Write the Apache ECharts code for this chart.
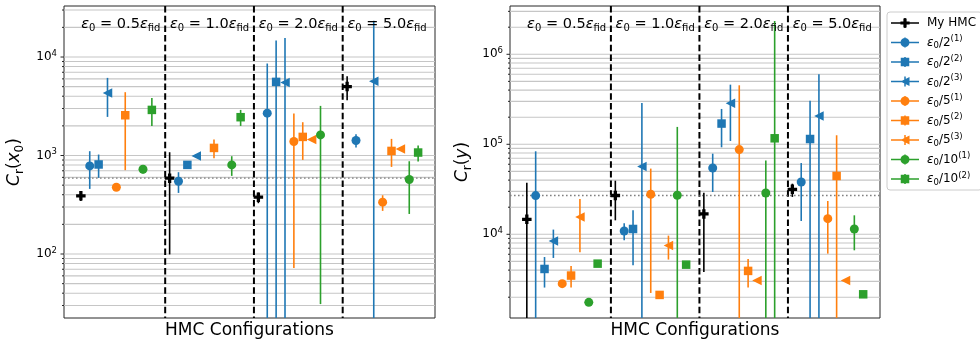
<!DOCTYPE html>
<html><head><meta charset="utf-8">
<script src="https://cdn.jsdelivr.net/npm/echarts@6/dist/echarts.min.js"></script>
<style>html,body{margin:0;padding:0;background:#fff}#c{width:980px;height:341px}</style>
</head><body><div id="c"></div>
<script>
// ---------------- DATA ----------------
const groupLabels = ['0.5', '1.0', '2.0', '5.0'];           // eps0 / eps_fid per group
const seriesNames = ['My HMC', 'e2_1', 'e2_2', 'e2_3', 'e5_1', 'e5_2', 'e5_3', 'e10_1', 'e10_2'];
const seriesDenom = ['', '2', '2', '2', '5', '5', '5', '10', '10'];
const seriesRun   = ['', '1', '2', '3', '1', '2', '3', '1', '2'];
const xTitle = 'HMC Configurations';

// Each entry per group: [value, lower, upper]; null = no point; lower null = below axis
// Left panel: C_r(x_0)
const x0_myHMC = [[390, 345, 430], [589, 99, 1080], [378, 328, 421], [5010, 3640, 6380]];
const x0_e2_1  = [[784, 458, 1106], [548, 417, 677], [2690, null, 8590], [1420, 1205, 1645]];
const x0_e2_2  = [[811, 593, 1023], [803, 780, 826], [5590, null, 14750], null];
const x0_e2_3  = [[4300, 2466, 6140], [990, 950, 1030], [5510, null, 15630], [5675, null, 23300]];
const x0_e5_1  = [[476, 460, 492], null, [1388, 72, 2670], [336, 274, 395]];
const x0_e5_2  = [[2563, 710, 4395], [1194, 939, 1453], [1545, 902, 2178], [1113, 766, 1475]];
const x0_e5_3  = [null, null, [1453, 1400, 1510], [1167, 1120, 1220]];
const x0_e10_1 = [[726, 656, 791], [803, 621, 984], [1618, 31, 3190], [571, 255, 875]];
const x0_e10_2 = [[2904, 1996, 3845], [2449, 1996, 2904], null, [1072, 869, 1263]];

// Right panel: C_r(y)
const y_myHMC = [[14680, null, 37500], [27000, 14300, 39400], [16830, 3810, 29000], [31600, 26000, 36500]];
const y_e2_1  = [[26900, null, 83600], [10880, 8580, 13250], [54600, 29500, 78700], [38100, 14060, 61900]];
const y_e2_2  = [[4120, 2560, 5590], [11460, 4530, 18480], [170000, 92600, 247000], [114500, null, 305600]];
const y_e2_3  = [[8430, 5460, 11280], [56500, null, 287600], [285500, 108800, 460000], [206400, null, 600000]];
const y_e5_1  = [[2830, 2750, 2910], [27830, 2230, 53700], [87300, null, 452500], [14920, 6100, 23460]];
const y_e5_2  = [[3480, 2560, 4450], [2120, 2060, 2180], [3920, 2560, 5320], [44470, null, 126000]];
const y_e5_3  = [[15590, 6310, 24700], [7490, 5240, 9670], [3060, 2980, 3140], [3060, 2980, 3140]];
const y_e10_1 = [[1755, 1710, 1800], [27120, null, 156000], [28770, null, 65900], [11460, 6640, 16250]];
const y_e10_2 = [[4720, 4600, 4840], [4600, 4480, 4720], [116600, null, 2340000], [2154, 2100, 2210]];

// reference level: My HMC at eps0 = 1.0 eps_fid
const refGroup = 1;

// ---------------- STYLE / LAYOUT ----------------
const FONT = 'DejaVu Sans';
const colors = ['#000000', '#1f77b4', '#1f77b4', '#1f77b4', '#ff7f0e', '#ff7f0e', '#ff7f0e', '#2ca02c', '#2ca02c'];
const shapes = ['plus', 'circle', 'square', 'tri', 'circle', 'square', 'tri', 'circle', 'square'];
const X_MIN = -1.9, X_MAX = 39.9;
const panels = [
  { data: [x0_myHMC, x0_e2_1, x0_e2_2, x0_e2_3, x0_e5_1, x0_e5_2, x0_e5_3, x0_e10_1, x0_e10_2],
    yMin: 22.4, yMax: 32960, grid: { left: 64, top: 6, width: 371, height: 312 },
    yName: '{c|C}{sub|r}{t|(}{i|x}{sub|0}{t|)}', nameGap: 38 },
  { data: [y_myHMC, y_e2_1, y_e2_2, y_e2_3, y_e5_1, y_e5_2, y_e5_3, y_e10_1, y_e10_2],
    yMin: 1175, yMax: 3.44e6, grid: { left: 510, top: 6, width: 370, height: 312 },
    yName: '{c|C}{sub|r}{t|(}{i|y}{t|)}', nameGap: 36 }
];

const symbolFor = {
  plus: { symbol: 'path://M-1.6,-4.6H1.6V-1.6H4.6V1.6H1.6V4.6H-1.6V1.6H-4.6V-1.6H-1.6Z', size: 9.5, rotate: 0 },
  circle: { symbol: 'circle', size: 9, rotate: 0 },
  square: { symbol: 'rect', size: 8.5, rotate: 0 },
  tri: { symbol: 'triangle', size: 9.5, rotate: 90 }
};
const legendBase = 'M0,4.25H28V5.75H0Z M13.25,0H14.75V10H13.25Z ';
const legendMarker = {
  plus: 'M12.4,0.4H15.6V3.4H18.6V6.6H15.6V9.6H12.4V6.6H9.4V3.4H12.4Z',
  circle: 'M9.5,5A4.5,4.5 0 1,1 18.5,5A4.5,4.5 0 1,1 9.5,5Z',
  square: 'M9.75,0.75H18.25V9.25H9.75Z',
  tri: 'M9.5,5L18.5,0.5L18.5,9.5Z'
};

function tickValues(min, max) {
  const out = [];
  for (let k = Math.floor(Math.log10(min)); k <= Math.ceil(Math.log10(max)); k++) {
    for (let m = 1; m <= 9; m++) {
      const v = m * Math.pow(10, k);
      if (v >= min && v <= max) out.push([X_MIN, v, m === 1 ? 1 : 0]);
    }
  }
  return out;
}
function majorValues(min, max) {
  const out = [];
  for (let k = Math.ceil(Math.log10(min)); k <= Math.floor(Math.log10(max)); k++) out.push(Math.pow(10, k));
  return out;
}

const rich = {
  t: { fontFamily: FONT, fontSize: 12, color: '#000', lineHeight: 16 },
  e: { fontFamily: FONT, fontSize: 12, fontStyle: 'italic', color: '#000', lineHeight: 16 },
  sub: { fontFamily: FONT, fontSize: 8.5, color: '#000', lineHeight: 8, verticalAlign: 'bottom' },
  sup: { fontFamily: FONT, fontSize: 8.5, color: '#000', lineHeight: 8, verticalAlign: 'top' }
};

const grids = [], xAxes = [], yAxes = [], series = [];
panels.forEach((P, pi) => {
  grids.push(Object.assign({ show: true, borderColor: '#262626', borderWidth: 1, backgroundColor: 'transparent',
    containLabel: false, outerBoundsMode: 'none' }, P.grid));
  xAxes.push({
    gridIndex: pi, type: 'value', min: X_MIN, max: X_MAX,
    axisLine: { show: false }, axisTick: { show: false }, axisLabel: { show: false }, splitLine: { show: false },
    name: xTitle, nameLocation: 'middle', nameGap: 3,
    nameTextStyle: { fontFamily: FONT, fontSize: 17, color: '#000', verticalAlign: 'top', lineHeight: 20 }
  });
  const majors = majorValues(P.yMin, P.yMax);
  yAxes.push({
    gridIndex: pi, type: 'log', logBase: 10, min: P.yMin, max: P.yMax,
    axisLine: { show: false }, axisTick: { show: false }, splitLine: { show: false }, minorTick: { show: false },
    axisLabel: {
      customValues: majors, margin: 7,
      formatter: v => '{t|10}{sup|' + Math.round(Math.log10(v)) + '}',
      rich: {
        t: { fontFamily: FONT, fontSize: 12, color: '#000', lineHeight: 16 },
        sup: { fontFamily: FONT, fontSize: 8.5, color: '#000', lineHeight: 8, verticalAlign: 'top' }
      }
    },
    name: P.yName, nameLocation: 'middle', nameRotate: 90, nameGap: P.nameGap,
    nameTextStyle: {
      rich: {
        c: { fontFamily: FONT, fontSize: 17, fontStyle: 'italic', color: '#000', lineHeight: 22 },
        i: { fontFamily: FONT, fontSize: 17, fontStyle: 'italic', color: '#000', lineHeight: 22 },
        t: { fontFamily: FONT, fontSize: 17, color: '#000', lineHeight: 22 },
        sub: { fontFamily: FONT, fontSize: 12, color: '#000', lineHeight: 12, verticalAlign: 'bottom' }
      }
    }
  });

  // grid lines + ticks
  series.push({
    type: 'custom', xAxisIndex: pi, yAxisIndex: pi, z: 1, silent: true, clip: false,
    data: tickValues(P.yMin, P.yMax),
    renderItem: (params, api) => {
      const a = api.coord([X_MIN, api.value(1)]);
      const b = api.coord([X_MAX, api.value(1)]);
      const len = api.value(2) ? 3.5 : 2;
      return { type: 'group', children: [
        { type: 'line', shape: { x1: a[0], y1: a[1], x2: b[0], y2: b[1] }, style: { stroke: '#c6c6c6', lineWidth: 1.1 } },
        { type: 'line', shape: { x1: a[0] - len, y1: a[1], x2: a[0], y2: a[1] }, style: { stroke: '#262626', lineWidth: 1 } }
      ]};
    }
  });
  // group separators
  series.push({
    type: 'custom', xAxisIndex: pi, yAxisIndex: pi, z: 5, silent: true,
    data: groupLabels.slice(1).map((g, gi) => [gi * 10 + 9.5, P.yMin]),
    renderItem: (params, api) => {
      const a = api.coord([api.value(0), P.yMax]);
      const b = api.coord([api.value(0), P.yMin]);
      return { type: 'line', shape: { x1: a[0], y1: a[1], x2: b[0], y2: b[1] }, style: { stroke: '#000', lineWidth: 2, lineDash: [6.5, 3.2] } };
    }
  });
  // reference dotted line
  series.push({
    type: 'custom', xAxisIndex: pi, yAxisIndex: pi, z: 5, silent: true,
    data: [[X_MIN, P.data[0][refGroup][0]]],
    renderItem: (params, api) => {
      const a = api.coord([X_MIN, api.value(1)]);
      const b = api.coord([X_MAX, api.value(1)]);
      return { type: 'line', shape: { x1: a[0], y1: a[1], x2: b[0], y2: b[1] }, style: { stroke: '#808080', lineWidth: 1.4, lineDash: [1.6, 2.4] } };
    }
  });

  P.data.forEach((ds, i) => {
    const pts = [];
    ds.forEach((d, g) => { if (d) pts.push([g * 10 + i, d[0], d[1] == null ? P.yMin : d[1], d[2]]); });
    const col = colors[i];
    series.push({
      name: seriesNames[i] + '_err', type: 'custom', xAxisIndex: pi, yAxisIndex: pi, z: 10 + 2 * i, silent: true,
      data: pts, encode: { x: 0, y: 1 },
      renderItem: (params, api) => {
        const x = api.value(0);
        const lo = Math.max(api.value(2), P.yMin), hi = Math.min(api.value(3), P.yMax);
        const a = api.coord([x, hi]), b = api.coord([x, lo]);
        return { type: 'line', shape: { x1: a[0], y1: a[1], x2: b[0], y2: b[1] }, style: { stroke: col, lineWidth: 1.6 } };
      }
    });
    const s = symbolFor[shapes[i]];
    series.push({
      name: seriesNames[i], type: 'scatter', xAxisIndex: pi, yAxisIndex: pi, z: 11 + 2 * i, silent: true,
      symbol: s.symbol, symbolSize: s.size, symbolRotate: s.rotate,
      itemStyle: { color: col, opacity: 1 },
      data: pts.map(p => [p[0], p[1]])
    });
  });
});

function legendLabel(name) {
  const i = seriesNames.indexOf(name);
  if (i === 0) return '{t|My HMC}';
  return '{e|ε}{sub|0}{t|/' + seriesDenom[i] + '}{sup|(' + seriesRun[i] + ')}';
}

const chart = echarts.init(document.getElementById('c'), null, { renderer: 'canvas' });
chart.setOption({
  animation: false,
  backgroundColor: '#ffffff',
  grid: grids, xAxis: xAxes, yAxis: yAxes, series: series,
  legend: {
    orient: 'vertical', left: 887, top: 12, itemWidth: 28, itemHeight: 10, itemGap: 3.5,
    padding: [3, 6, 3, 4], borderColor: '#cccccc', borderWidth: 1, borderRadius: 3, backgroundColor: '#ffffff',
    selectedMode: false,
    data: seriesNames.map((n, i) => ({ name: n, icon: 'path://' + legendBase + legendMarker[shapes[i]], itemStyle: { color: colors[i] } })),
    formatter: legendLabel,
    textStyle: { fontFamily: FONT, fontSize: 12, color: '#000', lineHeight: 18, padding: [0, 0, 0, 3], rich: rich }
  }
});

// group labels at the top of each panel
const tRich = {
  t: { fontFamily: FONT, fontSize: 14.5, color: '#000', lineHeight: 18 },
  e: { fontFamily: FONT, fontSize: 14.5, fontStyle: 'italic', color: '#000', lineHeight: 18 },
  sub: { fontFamily: FONT, fontSize: 10, color: '#000', lineHeight: 9, verticalAlign: 'bottom' }
};
const graphics = [];
panels.forEach((P, pi) => {
  groupLabels.forEach((g, gi) => {
    const px = chart.convertToPixel({ xAxisIndex: pi, yAxisIndex: pi }, [gi * 10 + 4.5, P.yMax]);
    graphics.push({
      type: 'text', x: px[0], y: px[1] + 18, z: 50, silent: true,
      style: { text: '{e|ε}{sub|0}{t| = ' + g + '}{e|ε}{sub|fid}', rich: tRich, align: 'center', verticalAlign: 'middle' }
    });
  });
});
chart.setOption({ graphic: graphics });
</script>
</body></html>
